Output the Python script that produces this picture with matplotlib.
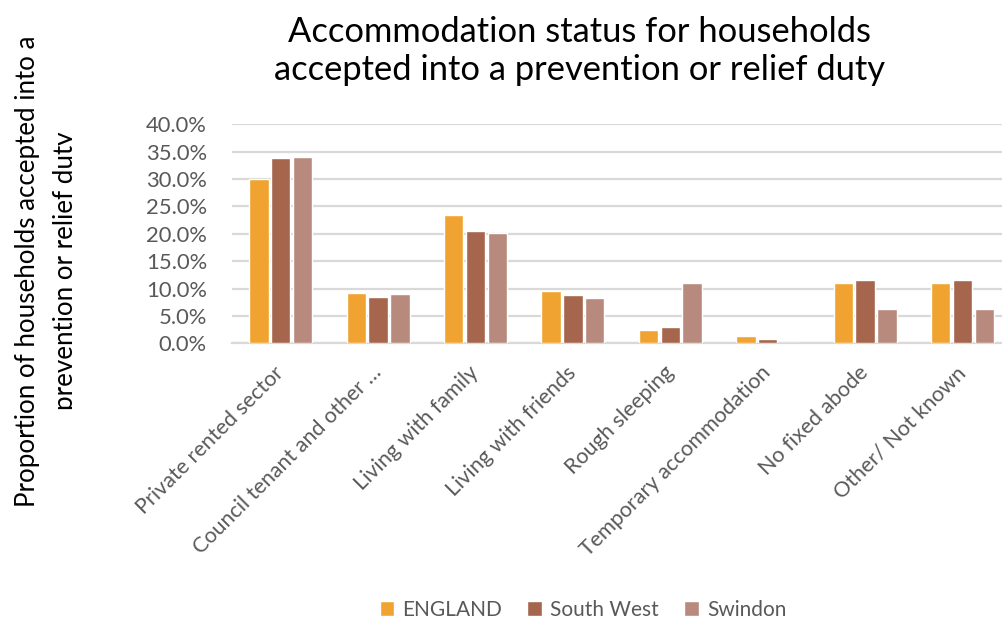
import matplotlib.pyplot as plt
import numpy as np
from matplotlib.patches import Rectangle
from matplotlib.transforms import IdentityTransform
from matplotlib.ticker import PercentFormatter

# Share of households by accommodation status at the time of the duty
categories = ['Private rented sector', 'Council tenant and other …', 'Living with family',
              'Living with friends', 'Rough sleeping', 'Temporary accommodation',
              'No fixed abode', 'Other/ Not known']
england = [30.0, 9.2, 23.4, 9.6, 2.4, 1.3, 11.1, 11.1]
south_west = [33.8, 8.5, 20.5, 8.8, 3.0, 0.7, 11.6, 11.6]
swindon = [34.0, 9.0, 20.1, 8.3, 11.1, 0.0, 6.2, 6.2]

series = [('ENGLAND', england, '#F0A330'),
          ('South West', south_west, '#A5664D'),
          ('Swindon', swindon, '#B88A7E')]

plt.rcParams['font.family'] = ['Lato', 'DejaVu Sans']

W, H = 1003, 622
fig = plt.figure(figsize=(W / 100, H / 100), dpi=100)
# plot area in pixels: left 232, top 124, bottom 343, one category every ~97.4 px
ax = fig.add_axes([232 / W, 1 - 343.3 / H, 8 * 97.4 / W, 219 / H])

x = np.arange(len(categories))
step = 0.224
for i, (name, vals, col) in enumerate(series):
    ax.bar(x + (i - 1) * step, vals, width=0.2, color=col, edgecolor='white',
           linewidth=1.0, label=name, zorder=3)

ax.set_xlim(-0.5, len(categories) - 0.5)
ax.set_ylim(0, 40)
ax.set_yticks(np.arange(0, 40.1, 5))
ax.yaxis.set_major_formatter(PercentFormatter(decimals=1))
ax.grid(axis='y', color='#d9d9d9', linewidth=1.6, zorder=0)
for s in ['top', 'right', 'left']:
    ax.spines[s].set_visible(False)
ax.spines['bottom'].set_color('#d9d9d9')
ax.spines['bottom'].set_linewidth(1.6)
ax.tick_params(axis='both', length=0, labelcolor='#595959')
ax.tick_params(axis='y', pad=18, labelsize=15.8)

ax.set_xticks(x)
ax.set_xticklabels(categories, rotation=45, ha='right', va='center',
                   rotation_mode='anchor')
ax.tick_params(axis='x', pad=19, labelsize=15.5)

fig.text(579 / W, 1 - 51 / H,
         'Accommodation status for households\naccepted into a prevention or relief duty',
         ha='center', va='center', fontsize=24.8, color='black', linespacing=1.22)

# axis title in two lines; the second one loses its descenders at the chart edge
for line, base_x in [('Proportion of households accepted into a', 35),
                     ('prevention or relief duty', 73)]:
    fig.text(base_x / W, 1 - 271 / H, line, rotation=90, rotation_mode='anchor',
             ha='center', va='baseline', fontsize=18.6, color='black')
fig.add_artist(Rectangle((72, 100), 30, 400, transform=IdentityTransform(),
                         facecolor='white', edgecolor='none', zorder=10))

fig.legend(loc='center', bbox_to_anchor=(583 / W, 1 - 610 / H), ncol=3,
           frameon=False, fontsize=15, handlelength=0.7, handleheight=0.7,
           handletextpad=0.4, columnspacing=1.2, labelcolor='#595959')

fig.savefig('out.png', dpi=100)
